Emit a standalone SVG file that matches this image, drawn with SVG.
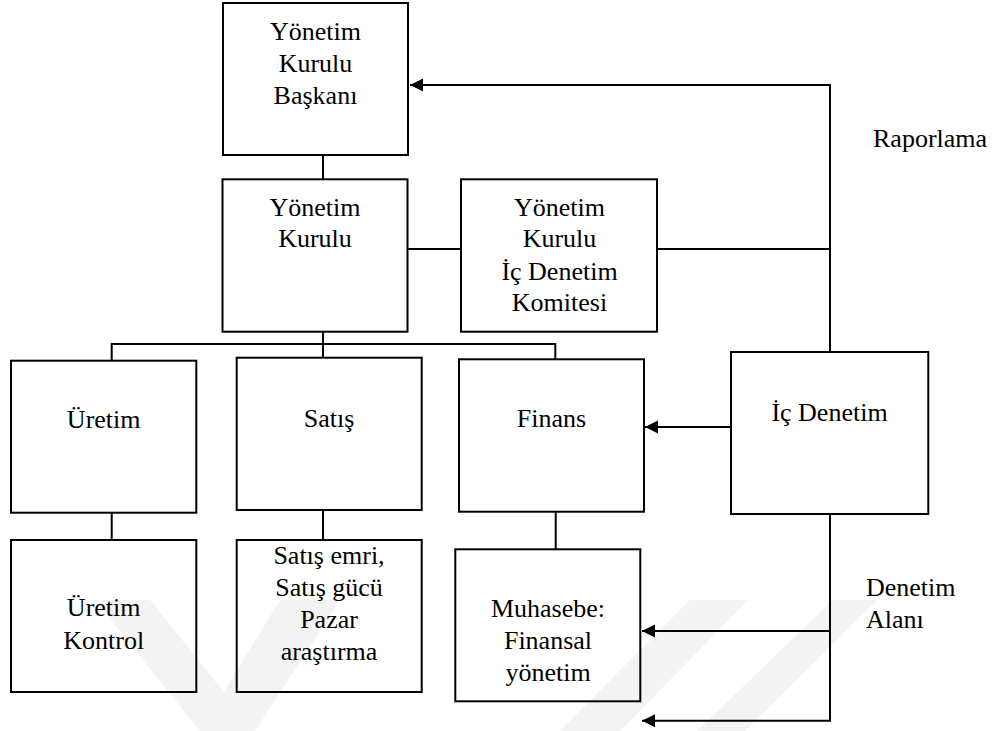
<svg xmlns="http://www.w3.org/2000/svg" width="994" height="731" viewBox="0 0 994 731">
<style>
.box{fill:none;stroke:#000;stroke-width:2}
.t{font-family:"Liberation Serif","Times New Roman",serif;font-size:26px;fill:#000;text-anchor:middle}
.tl{font-family:"Liberation Serif","Times New Roman",serif;font-size:26px;fill:#000}
.c{fill:none;stroke:#000;stroke-width:2}
.wm{fill:#f3f3f3}
</style>
<defs>
<marker id="ah" markerUnits="userSpaceOnUse" markerWidth="14" markerHeight="14" refX="13" refY="7" orient="auto">
<path d="M0,0.5 L13,7 L0,13.5 z" fill="#000"/>
</marker>
</defs>
<rect width="994" height="731" fill="#fff"/>
<g id="watermark">
<polygon class="wm" points="95,600 150,600 255,731 200,731"/>
<polygon class="wm" points="280,600 340,600 255,731 200,731"/>
<polygon class="wm" points="690,600 748,600 620,731 560,731"/>
<polygon class="wm" points="833,600 877,600 745,731 697,731"/>
</g>
<g id="connectors">
<path class="c" d="M323,155 V179"/>
<path class="c" d="M407,249 H461"/>
<path class="c" d="M657,249 H830"/>
<path class="c" d="M830,249 V85 H410" marker-end="url(#ah)"/>
<path class="c" d="M830,249 V352"/>
<path class="c" d="M323,332 V358"/>
<path class="c" d="M111.7,361 V344 H555.3 V359"/>
<path class="c" d="M731,427 H645" marker-end="url(#ah)"/>
<path class="c" d="M111.7,513 V540"/>
<path class="c" d="M323,510 V540"/>
<path class="c" d="M555.7,512 V549"/>
<path class="c" d="M830,514 V720.7 H642" marker-end="url(#ah)"/>
<path class="c" d="M830,631 H642" marker-end="url(#ah)"/>
</g>
<g id="baskan">
<rect class="box" x="223" y="3" width="185" height="152"/>
<text class="t" x="315.5" y="39.5">Yönetim</text>
<text class="t" x="315.5" y="72">Kurulu</text>
<text class="t" x="315.5" y="103.5">Başkanı</text>
</g>
<g id="kurul">
<rect class="box" x="222.5" y="179.3" width="185" height="152.4"/>
<text class="t" x="315" y="215.7">Yönetim</text>
<text class="t" x="315" y="247">Kurulu</text>
</g>
<g id="komite">
<rect class="box" x="461" y="179.3" width="196" height="152.4"/>
<text class="t" x="559.5" y="215.7">Yönetim</text>
<text class="t" x="559.5" y="247">Kurulu</text>
<text class="t" x="559.5" y="279.5">İç Denetim</text>
<text class="t" x="559.5" y="310.7">Komitesi</text>
</g>
<g id="uretim">
<rect class="box" x="11" y="360.7" width="185.3" height="152"/>
<text class="t" x="103.7" y="428">Üretim</text>
</g>
<g id="satis">
<rect class="box" x="236.7" y="357.7" width="185" height="152.3"/>
<text class="t" x="329" y="426.7">Satış</text>
</g>
<g id="finans">
<rect class="box" x="459" y="359.3" width="185" height="152.4"/>
<text class="t" x="551.5" y="427.3">Finans</text>
</g>
<g id="icdenetim">
<rect class="box" x="731" y="352" width="197.3" height="162"/>
<text class="t" x="829.5" y="420.5">İç Denetim</text>
</g>
<g id="uretimkontrol">
<rect class="box" x="11" y="540" width="185.3" height="152"/>
<text class="t" x="103.7" y="616">Üretim</text>
<text class="t" x="103.7" y="648.5">Kontrol</text>
</g>
<g id="satisemri">
<rect class="box" x="236.7" y="540" width="185" height="152"/>
<text class="t" x="329" y="564">Satış emri,</text>
<text class="t" x="329" y="596">Satış gücü</text>
<text class="t" x="329" y="628">Pazar</text>
<text class="t" x="329" y="660">araştırma</text>
</g>
<g id="muhasebe">
<rect class="box" x="455.3" y="549.3" width="185" height="152"/>
<text class="t" x="548" y="617.3">Muhasebe:</text>
<text class="t" x="548" y="649.3">Finansal</text>
<text class="t" x="548" y="681">yönetim</text>
</g>
<g id="labels">
<text class="tl" x="873" y="147">Raporlama</text>
<text class="tl" x="866" y="596">Denetim</text>
<text class="tl" x="866" y="628">Alanı</text>
</g>
</svg>
